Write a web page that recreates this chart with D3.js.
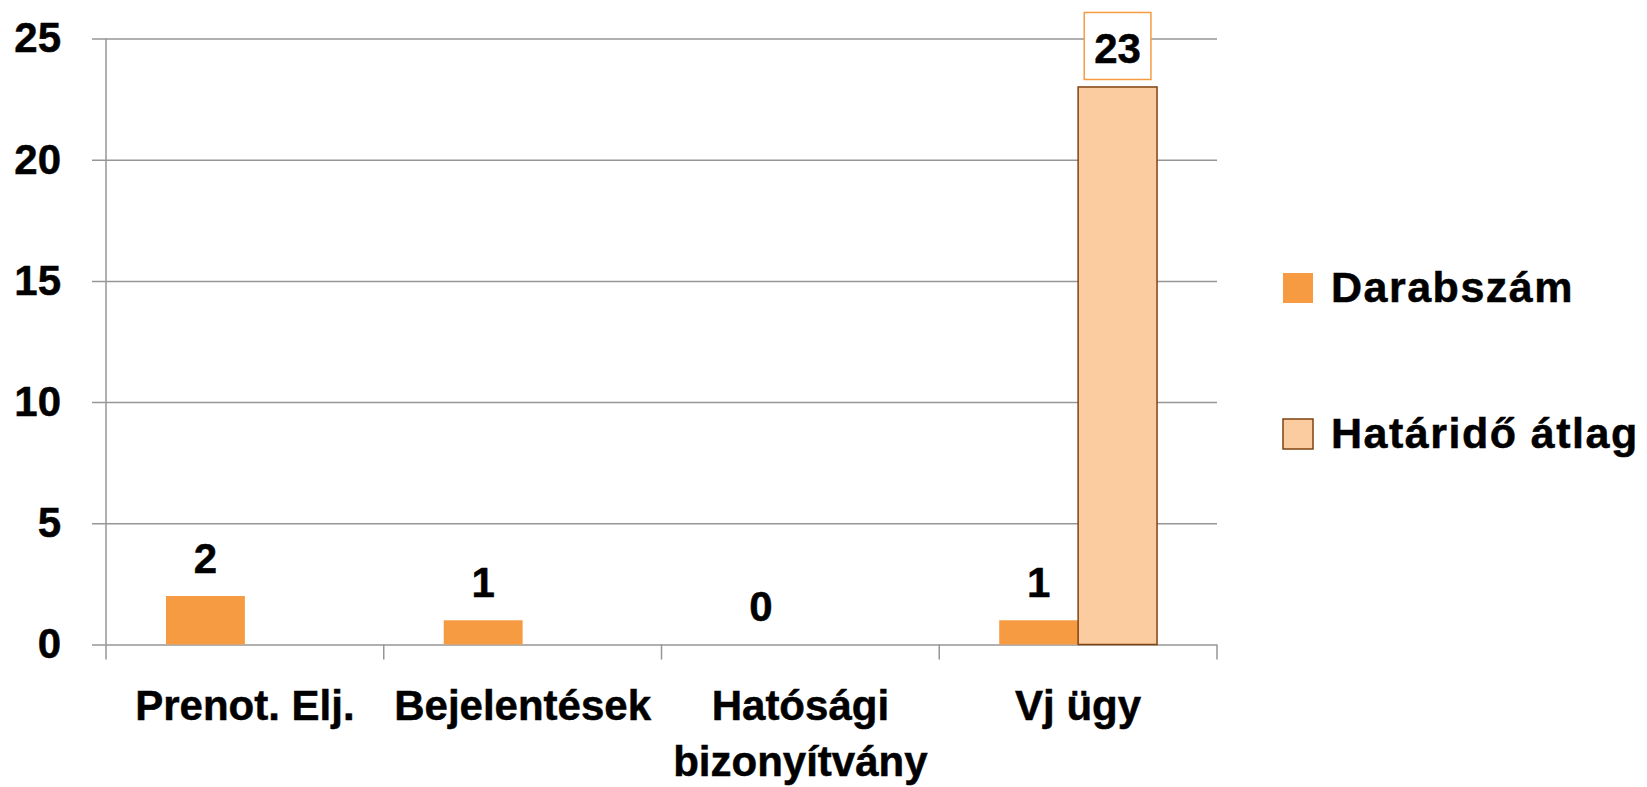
<!DOCTYPE html>
<html>
<head>
<meta charset="utf-8">
<script src="https://cdn.jsdelivr.net/npm/d3@7"></script>
<style>
  body { margin: 0; background: #fff; }
  svg { display: block; font-family: "Liberation Sans", Arial, sans-serif; font-weight: bold; }
  text { stroke: #000; stroke-width: 0.5px; }
</style>
</head>
<body>
<svg id="chart" width="1647" height="787"></svg>
<script>
// chart data
const categories = ["Prenot. Elj.", "Bejelentések", "Hatósági bizonyítvány", "Vj ügy"];
const seriesNames = ["Darabszám", "Határidő átlag"];
const darabszam = [2, 1, 0, 1];
const hataridoAtlag = [null, null, null, 23];
const yTicks = [0, 5, 10, 15, 20, 25];

const COLOR_DARK = "#f79b42";
const COLOR_LIGHT = "#fbcca0";
const COLOR_EDGE = "#7f4211";
const GRID = "#969696";

let svg = d3.select("#chart");

let x = d3.scaleBand().domain(categories).range([106, 1217]);
let xSub = d3.scaleBand().domain(seriesNames).range([0, x.bandwidth()]).paddingOuter(0.76);
let y = d3.scaleLinear().domain([0, 25]).range([644.5, 38.5]);

// gridlines + y labels
let yAxis = d3.axisLeft(y).tickValues(yTicks).tickSize(1125).tickPadding(31).tickFormat(d3.format("d"));
let gy = svg.append("g").attr("transform", "translate(1217,0)").call(yAxis);
gy.select(".domain").remove();
gy.selectAll(".tick line").attr("stroke", GRID).attr("stroke-width", 1.5);
gy.selectAll(".tick text").attr("font-size", 42).attr("font-family", null).attr("fill", "#000");

// vertical axis line
svg.append("line")
  .attr("x1", 106).attr("x2", 106)
  .attr("y1", y(25)).attr("y2", y(0))
  .attr("stroke", GRID).attr("stroke-width", 1.5);

// category boundary ticks
let bounds = categories.map(c => x(c)).concat([x.range()[1]]);
svg.selectAll(".xtick").data(bounds).enter().append("line")
  .attr("class", "xtick")
  .attr("x1", d => d).attr("x2", d => d)
  .attr("y1", y(0)).attr("y2", y(0) + 15)
  .attr("stroke", GRID).attr("stroke-width", 1.5);

// bars
let rows = categories.map((c, i) => ({cat: c, vals: [darabszam[i], hataridoAtlag[i]]}));
let groups = svg.selectAll(".cat").data(rows).enter().append("g")
  .attr("class", "cat")
  .attr("transform", d => "translate(" + x(d.cat) + ",0)");

groups.each(function (d) {
  let g = d3.select(this);
  d.vals.forEach((v, k) => {
    if (v === null) return;
    let s = seriesNames[k];
    g.append("rect")
      .attr("x", xSub(s))
      .attr("y", y(v))
      .attr("width", xSub.bandwidth())
      .attr("height", y(0) - y(v))
      .attr("fill", k === 0 ? COLOR_DARK : COLOR_LIGHT)
      .attr("stroke", k === 0 ? "none" : COLOR_EDGE)
      .attr("stroke-width", 1.5);
    let t = g.append("text")
      .attr("x", xSub(s) + xSub.bandwidth() / 2)
      .attr("y", y(v) - 23.5)
      .attr("text-anchor", "middle")
      .attr("font-size", 42)
      .text(v);
    if (k === 1) {
      // boxed label for second series
      let b = t.node().getBBox();
      g.insert("rect", "text")
        .attr("x", b.x - 10)
        .attr("y", y(v) - 74.5)
        .attr("width", b.width + 20)
        .attr("height", 67)
        .attr("fill", "#fff")
        .attr("stroke", COLOR_DARK)
        .attr("stroke-width", 1.5);
    }
  });
});

// category labels, wrapped when too wide
categories.forEach(c => {
  let t = svg.append("text")
    .attr("x", x(c) + x.bandwidth() / 2)
    .attr("y", 720)
    .attr("text-anchor", "middle")
    .attr("font-size", 42)
    .text(c);
  if (t.node().getComputedTextLength() > x.bandwidth()) {
    let words = c.split(" ");
    t.text(null);
    words.forEach((w, i) => {
      t.append("tspan")
        .attr("x", x(c) + x.bandwidth() / 2)
        .attr("dy", i === 0 ? 0 : 56)
        .text(w);
    });
  }
});

// legend
let legend = svg.selectAll(".leg").data(seriesNames).enter().append("g")
  .attr("class", "leg")
  .attr("transform", (d, i) => "translate(1283," + (273 + i * 146) + ")");
legend.append("rect")
  .attr("width", 30).attr("height", 30)
  .attr("fill", (d, i) => i === 0 ? COLOR_DARK : COLOR_LIGHT)
  .attr("stroke", (d, i) => i === 0 ? "none" : COLOR_EDGE)
  .attr("stroke-width", 1.5);
legend.append("text")
  .attr("x", 48).attr("y", 29)
  .attr("font-size", 43)
  .attr("letter-spacing", 1.5)
  .text(d => d);
</script>
</body>
</html>
